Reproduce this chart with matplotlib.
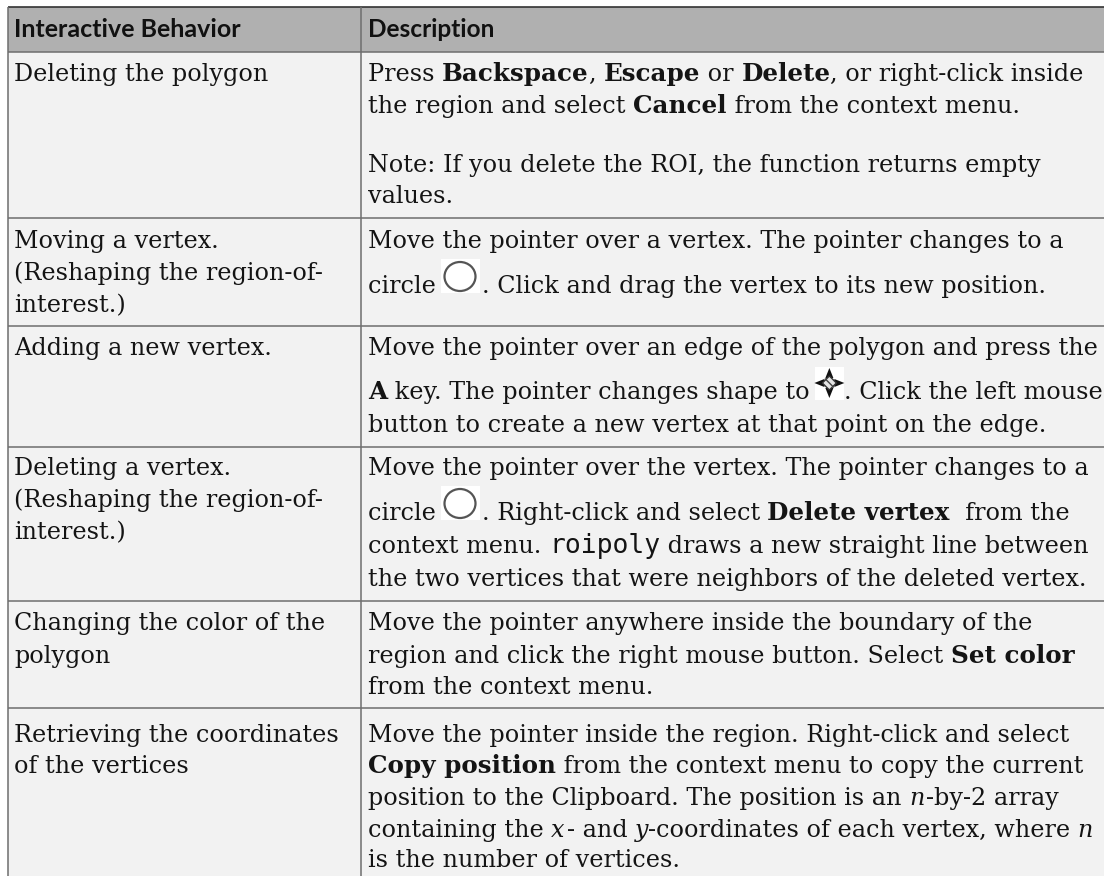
import matplotlib
matplotlib.use('Agg')
import matplotlib.pyplot as plt
from matplotlib.patches import Rectangle, Ellipse, Polygon

# table geometry, pixels
row_lines = [7, 51.5, 218, 326, 446.5, 600.5, 708, 876]
col_lines = [8, 361, 1104]

headers = ['Interactive Behavior', 'Description']

# (baseline, text) for the left column
left_lines = [
    (81, 'Deleting the polygon'),
    (248, 'Moving a vertex.'),
    (280, '(Reshaping the region-of-'),
    (312, 'interest.)'),
    (355, 'Adding a new vertex.'),
    (475, 'Deleting a vertex.'),
    (507, '(Reshaping the region-of-'),
    (539, 'interest.)'),
    (630, 'Changing the color of the'),
    (663, 'polygon'),
    (742, 'Retrieving the coordinates'),
    (773, 'of the vertices'),
]

# (baseline, runs) for the right column; run = (text, style)
right_lines = [
    (81, [('Press ', 'r'), ('Backspace', 'b'), (', ', 'r'), ('Escape', 'b'), (' or ', 'r'), ('Delete', 'b'), (', or right-click inside', 'r')]),
    (113, [('the region and select ', 'r'), ('Cancel', 'b'), (' from the context menu.', 'r')]),
    (172, [('Note: If you delete the ROI, the function returns empty', 'r')]),
    (203, [('values.', 'r')]),
    (248, [('Move the pointer over a vertex. The pointer changes to a', 'r')]),
    (293, [('circle ', 'r'), ('O', 'icon'), ('. Click and drag the vertex to its new position.', 'r')]),
    (355, [('Move the pointer over an edge of the polygon and press the', 'r')]),
    (399, [('A', 'b'), (' key. The pointer changes shape to', 'r'), ('+', 'cursor'), ('. Click the left mouse', 'r')]),
    (432, [('button to create a new vertex at that point on the edge.', 'r')]),
    (475, [('Move the pointer over the vertex. The pointer changes to a', 'r')]),
    (520, [('circle ', 'r'), ('O', 'icon'), ('. Right-click and select ', 'r'), ('Delete vertex', 'b'), ('  from the', 'r')]),
    (553, [('context menu. ', 'r'), ('roipoly', 'm'), (' draws a new straight line between', 'r')]),
    (586, [('the two vertices that were neighbors of the deleted vertex.', 'r')]),
    (630, [('Move the pointer anywhere inside the boundary of the', 'r')]),
    (663, [('region and click the right mouse button. Select ', 'r'), ('Set color', 'b')]),
    (694, [('from the context menu.', 'r')]),
    (742, [('Move the pointer inside the region. Right-click and select', 'r')]),
    (773, [('Copy position', 'b'), (' from the context menu to copy the current', 'r')]),
    (805, [('position to the Clipboard. The position is an ', 'r'), ('n', 'i'), ('-by-2 array', 'r')]),
    (837, [('containing the ', 'r'), ('x', 'i'), ('- and ', 'r'), ('y', 'i'), ('-coordinates of each vertex, where ', 'r'), ('n', 'i')]),
    (867, [('is the number of vertices.', 'r')]),
]

serif = 'DejaVu Serif'
size = 17.2
styles = {
    'r': dict(family=serif, fontsize=size),
    'b': dict(family=serif, weight='bold', fontsize=17.7),
    'i': dict(family=serif, style='italic', fontsize=size),
    'm': dict(family='DejaVu Sans Mono', fontsize=19),
}
ink = '#141414'
edge = '#6e6e6e'

fig = plt.figure(figsize=(11.04, 8.76), dpi=100)
ax = fig.add_axes([0, 0, 1, 1])
ax.set_xlim(0, 1104)
ax.set_ylim(876, 0)
ax.axis('off')

ax.add_patch(Rectangle((col_lines[0], row_lines[1]), col_lines[2] - col_lines[0], row_lines[-1] - row_lines[1], fc='#f2f2f2', ec='none'))
ax.add_patch(Rectangle((col_lines[0], row_lines[0]), col_lines[2] - col_lines[0], row_lines[1] - row_lines[0], fc='#b0b0b0', ec='none'))
ax.hlines(row_lines[1:-1], col_lines[0], col_lines[2], color=edge, lw=1.1)
ax.hlines(row_lines[0], col_lines[0], col_lines[2], color='#333333', lw=1.2)
ax.vlines(col_lines[:2], row_lines[0], row_lines[-1], color=edge, lw=1.1)

fig.canvas.draw()
rend = fig.canvas.get_renderer()


def run_width(s, **kw):
    # measure with a trailing dot so spaces count
    t = ax.text(0, 0, s + '.', **kw)
    d = ax.text(0, 0, '.', **kw)
    w = t.get_window_extent(rend).width - d.get_window_extent(rend).width
    t.remove()
    d.remove()
    return w


def circle_icon(x, base):
    ax.add_patch(Rectangle((x, base - 34), 39, 34, fc='white', ec='none', zorder=3))
    ax.add_patch(Ellipse((x + 19.5, base - 16.5), 31, 29, fc='white', ec='#555555', lw=1.6, zorder=4))


def cursor_icon(x, base):
    ax.add_patch(Rectangle((x, base - 32), 29, 33, fc='white', ec='none', zorder=3))
    cx, cy = x + 14, base - 16
    ax.add_patch(Polygon([(cx, cy - 15), (cx + 4, cy - 5), (cx - 4, cy - 5)], fc='#111111', zorder=4))
    ax.add_patch(Polygon([(cx, cy + 15), (cx + 4, cy + 5), (cx - 4, cy + 5)], fc='#111111', zorder=4))
    ax.add_patch(Polygon([(cx - 15, cy), (cx - 5, cy - 4), (cx - 5, cy + 4)], fc='#111111', zorder=4))
    ax.add_patch(Polygon([(cx + 15, cy), (cx + 5, cy - 4), (cx + 5, cy + 4)], fc='#111111', zorder=4))
    ax.add_patch(Polygon([(cx, cy - 7), (cx + 7, cy), (cx, cy + 7), (cx - 7, cy)], fc='#e4e4e4', ec='#333333', lw=1, zorder=4))
    ax.plot([cx - 4, cx + 4], [cy - 4, cy + 4], color='#444444', lw=1, zorder=5)


for x, h, fs in zip([14, 368], headers, [18, 17.6]):
    ax.text(x, 37, h, family='Lato', weight='bold', fontsize=fs, color='#111111', va='baseline')

for base, s in left_lines:
    ax.text(14, base, s, color=ink, va='baseline', **styles['r'])

for base, runs in right_lines:
    x = 368
    for s, st in runs:
        if st == 'icon':
            circle_icon(x - 3, base)
            x += 38
        elif st == 'cursor':
            cursor_icon(x + 6, base)
            x += 35
        else:
            ax.text(x, base, s, color=ink, va='baseline', **styles[st])
            x += run_width(s, **styles[st])
            if st == 'i':
                x += 2

fig.savefig('out.png', dpi=100)
